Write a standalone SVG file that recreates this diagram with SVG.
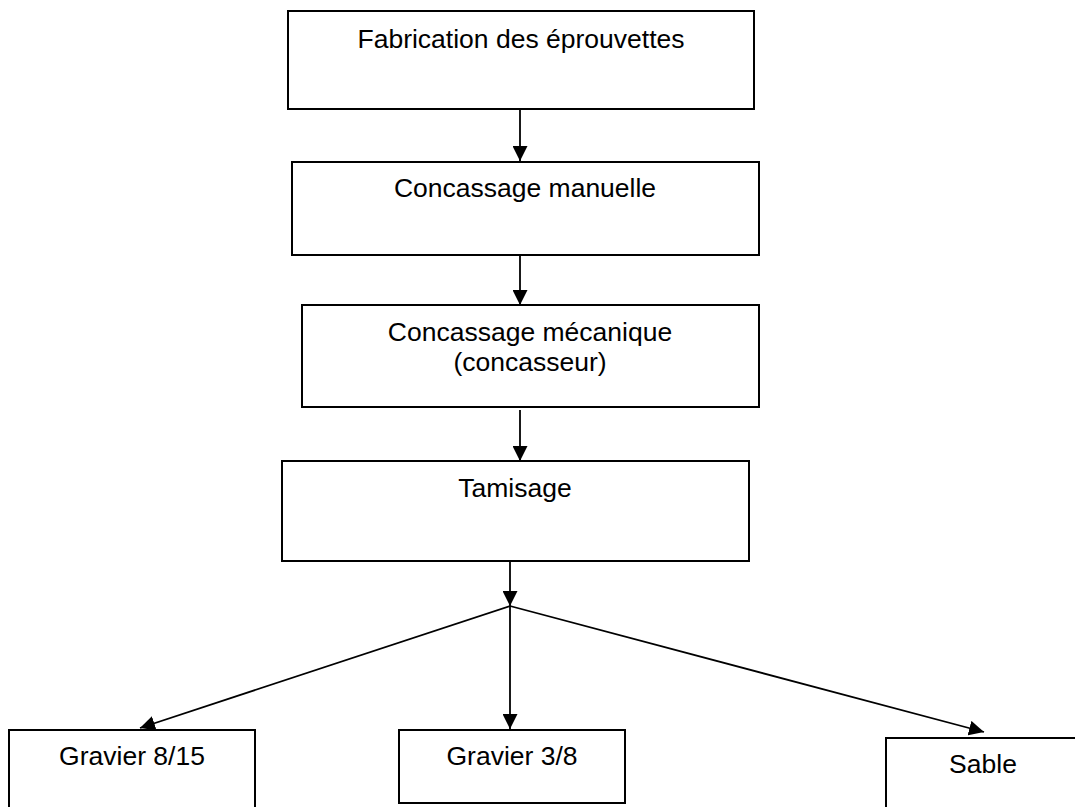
<svg xmlns="http://www.w3.org/2000/svg" width="1075" height="807" viewBox="0 0 1075 807">
<style>
.box{fill:#fff;stroke:#000;stroke-width:2}
.lbl{font-family:"Liberation Sans",Arial,sans-serif;font-size:26.5px;fill:#000;text-anchor:middle}
.con{stroke:#000;stroke-width:1.8;fill:none}
</style>
<defs>
<marker id="ah" viewBox="0 0 14 14" refX="14" refY="7" markerWidth="15" markerHeight="15" markerUnits="userSpaceOnUse" orient="auto">
<path d="M0,0 L14,7 L0,14 z" fill="#000"/>
</marker>
</defs>
<rect width="1075" height="807" fill="#fff"/>
<g id="connectors">
<line class="con" x1="520" y1="110" x2="520" y2="161" marker-end="url(#ah)"/>
<line class="con" x1="520" y1="256" x2="520" y2="305" marker-end="url(#ah)"/>
<line class="con" x1="520" y1="410" x2="520" y2="461" marker-end="url(#ah)"/>
<line class="con" x1="510" y1="561" x2="510" y2="606" marker-end="url(#ah)"/>
<line class="con" x1="510" y1="606" x2="140" y2="728" marker-end="url(#ah)"/>
<line class="con" x1="510" y1="606" x2="510" y2="729" marker-end="url(#ah)"/>
<line class="con" x1="510" y1="606" x2="984" y2="732" marker-end="url(#ah)"/>
</g>
<g id="n1"><rect class="box" x="288" y="11" width="466" height="98"/><text class="lbl" x="521" y="48">Fabrication des éprouvettes</text></g>
<g id="n2"><rect class="box" x="292" y="162" width="467" height="93"/><text class="lbl" x="525" y="197">Concassage manuelle</text></g>
<g id="n3"><rect class="box" x="302" y="305" width="457" height="102"/><text class="lbl" x="530" y="341">Concassage mécanique</text><text class="lbl" x="530" y="371">(concasseur)</text></g>
<g id="n4"><rect class="box" x="282" y="461" width="467" height="100"/><text class="lbl" x="515" y="497">Tamisage</text></g>
<g id="n5"><rect class="box" x="9" y="730" width="246" height="90"/><text class="lbl" x="132" y="765">Gravier 8/15</text></g>
<g id="n6"><rect class="box" x="399" y="730" width="226" height="73"/><text class="lbl" x="512" y="765">Gravier 3/8</text></g>
<g id="n7"><rect class="box" x="886" y="738" width="194" height="90"/><text class="lbl" x="983" y="773">Sable</text></g>
</svg>
